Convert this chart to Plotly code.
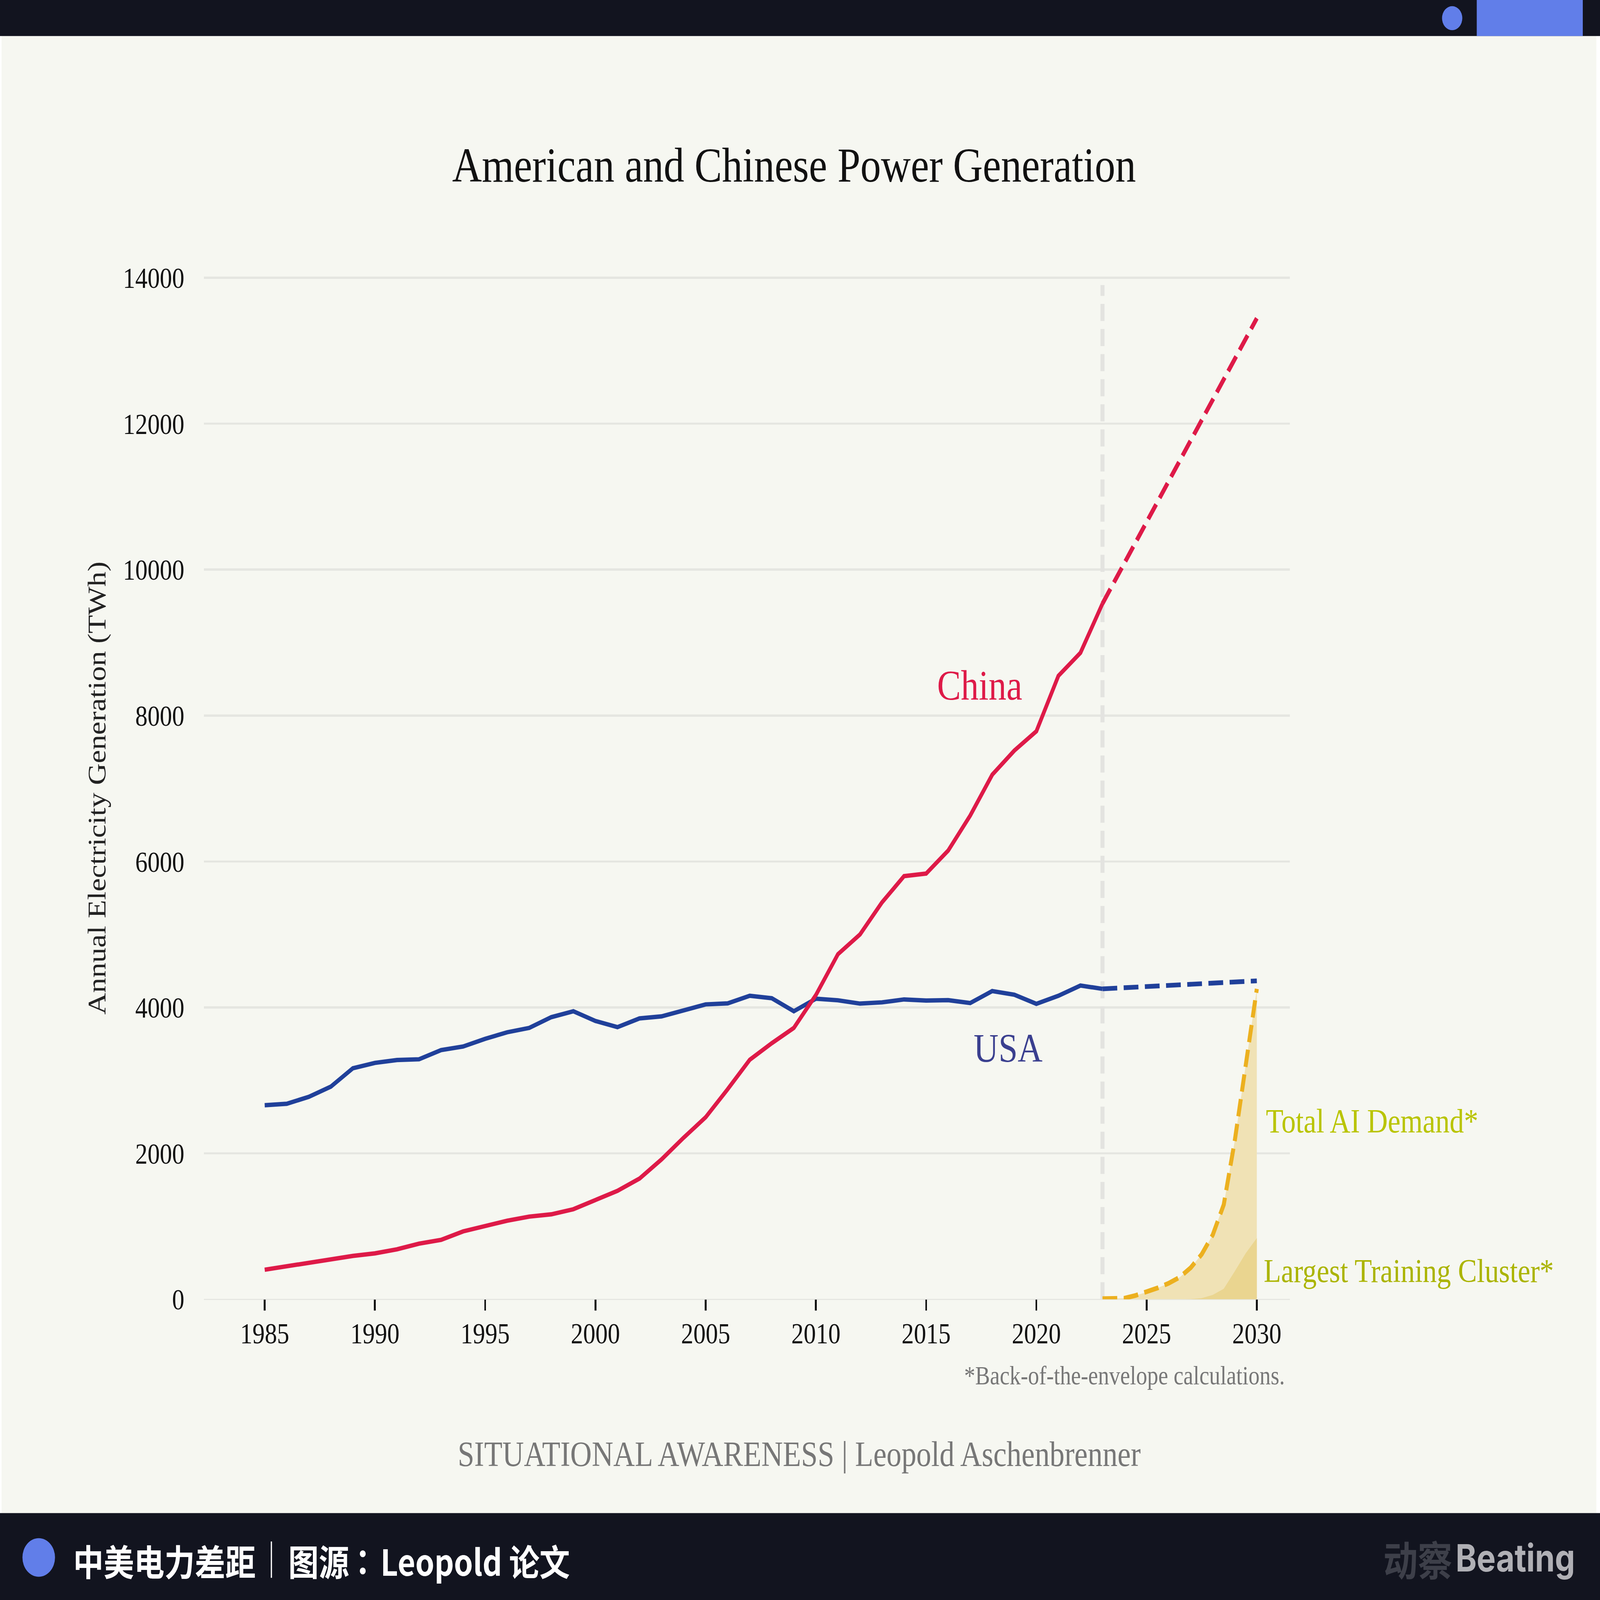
import plotly.graph_objects as go

W, H = 5206, 4401

# values (TWh)
years = list(range(1985, 2024))
usa = [2660, 2680, 2775, 2915, 3167, 3240, 3280, 3290, 3416, 3465,
       3570, 3660, 3720, 3867, 3948, 3815, 3730, 3850, 3878, 3960,
       4042, 4056, 4160, 4126, 3948, 4120, 4098, 4053, 4070, 4110,
       4095, 4100, 4060, 4225, 4175, 4050, 4160, 4300, 4255]
china = [406, 455, 507, 556, 595, 630, 686, 763, 815, 931,
         1008, 1078, 1134, 1165, 1235, 1365, 1487, 1655, 1918, 2215,
         2495, 2880, 3283, 3510, 3720, 4170, 4730, 5000, 5440, 5800,
         5835, 6150, 6630, 7190, 7520, 7785, 8545, 8860, 9535]

proj_years = [2023, 2030]
usa_proj = [4255, 4365]
china_proj = [9535, 13445]

ai_years = [2023, 2024, 2024.5, 2025, 2025.5, 2026, 2026.5, 2027, 2027.5, 2028, 2028.5, 2029, 2029.5, 2030]
ai_demand = [10, 15, 53, 98, 156, 220, 302, 433, 618, 883, 1298, 2175, 3218, 4255]
cluster = [0, 0, 0, 0, 0, 0, 0, 3, 17, 60, 145, 385, 634, 840]

marker_years = [2023, 2023]
marker_range = [0, 13900]

x_ticks = [1985, 1990, 1995, 2000, 2005, 2010, 2015, 2020, 2025, 2030]
y_ticks = [0, 2000, 4000, 6000, 8000, 10000, 12000, 14000]

SERIF = "Liberation Serif"
CJK = "Noto Sans CJK SC"
CREAM = "#f6f7f1"
DARK = "#12141f"
BLUE = "#617ee9"
RED = "#de1a48"
NAVY = "#20409a"
GOLD = "#ecb01f"
GRID = "#e5e6e1"
GREY = "#777777"
DASH = "48px,21px"

# the figure is laid out at 5206x4401 and fitted to whatever window the page gets
FIT_WINDOW = """
var gd = document.getElementById('{plot_id}');
document.documentElement.style.margin = '0';
document.body.style.margin = '0';
document.body.style.overflow = 'hidden';
gd.style.position = 'fixed';
gd.style.left = '0';
gd.style.top = '0';
gd.style.transformOrigin = '0 0';
gd.style.transform = 'scale(' + window.innerWidth / %d + ',' + window.innerHeight / %d + ')';
""" % (W, H)


def px_x(x):
    return x / W


def px_y(y):
    return 1 - y / H


def label(x, y, text, size, color, anchor="center", font=SERIF, angle=0):
    return dict(x=px_x(x), y=px_y(y), xref="paper", yref="paper", text=text, showarrow=False,
                xanchor=anchor, yanchor="middle", textangle=angle,
                font=dict(family=font, size=size, color=color))


def box(x0, y0, x1, y1, color, kind="rect"):
    return dict(type=kind, xref="paper", yref="paper", x0=px_x(x0), x1=px_x(x1),
                y0=px_y(y0), y1=px_y(y1), fillcolor=color, line_width=0, layer="below")


fig = go.Figure()

# AI demand areas first so the lines sit on top
fig.add_trace(go.Scatter(x=ai_years, y=ai_demand, mode="none", fill="tozeroy", fillcolor="#f0e2b5"))
fig.add_trace(go.Scatter(x=ai_years, y=cluster, mode="none", fill="tozeroy", fillcolor="#ead590"))

fig.add_trace(go.Scatter(x=marker_years, y=marker_range, mode="lines",
                         line=dict(color="#e3e3e0", width=13, dash="47px,22px")))

fig.add_trace(go.Scatter(x=years, y=usa, mode="lines", line=dict(color=NAVY, width=12)))
fig.add_trace(go.Scatter(x=years, y=china, mode="lines", line=dict(color=RED, width=12)))
fig.add_trace(go.Scatter(x=proj_years, y=usa_proj, mode="lines", line=dict(color=NAVY, width=13, dash=DASH)))
fig.add_trace(go.Scatter(x=proj_years, y=china_proj, mode="lines", line=dict(color=RED, width=13, dash=DASH)))
fig.add_trace(go.Scatter(x=ai_years, y=ai_demand, mode="lines", line=dict(color=GOLD, width=13, dash=DASH)))

shapes = [
    box(5, 99, 5194, 4162, CREAM),
    box(0, 0, W, 99, DARK),
    box(4805, 0, 5150, 99, BLUE),
    box(4692, 17, 4758, 83, BLUE, "circle"),
    box(0, 4162, W, H, DARK),
    box(73, 4231, 179, 4337, BLUE, "circle"),
    box(881, 4240, 885, 4340, "#ffffff"),
]

annotations = [
    label(2583, 455, "American and Chinese Power Generation", 134, "#111111"),
    label(315, 2168, "Annual Electricity Generation (TWh)", 83, "#222222", angle=-90),
    label(3187, 1885, "China", 116, RED),
    label(3280, 2882, "USA", 112, "#3a3f8f"),
    label(4117, 3083, "Total AI Demand*", 93, "#b9c400", anchor="left"),
    label(4110, 3495, "Largest Training Cluster*", 92, "#abb400", anchor="left"),
    label(4183, 3784, "*Back-of-the-envelope calculations.", 72, GREY, anchor="right"),
    label(2600, 4000, "SITUATIONAL AWARENESS | Leopold Aschenbrenner", 97, GREY),
    label(236, 4291, "<b>中美电力差距</b>", 99, "#ffffff", anchor="left", font=CJK),
    label(936, 4291, "<b>图源</b>", 99, "#ffffff", anchor="left", font=CJK),
    label(1180, 4291, "<b>：</b>", 99, "#ffffff", font="Noto Sans CJK TC"),
    label(1236, 4291, "<b>Leopold 论文</b>", 99, "#ffffff", anchor="left", font=CJK),
    label(4499, 4285, "<b>动察</b>", 112, "#3d3f49", anchor="left", font=CJK),
    label(4734, 4285, "<b>Beating</b>", 104, "#b0b0b5", anchor="left", font="Inter"),
]

fig.update_layout(
    width=W,
    height=H,
    autosize=False,
    margin=dict(l=0, r=0, t=0, b=0),
    paper_bgcolor="#ffffff",
    plot_bgcolor=CREAM,
    showlegend=False,
    shapes=shapes,
    annotations=annotations,
)
fig.update_xaxes(
    domain=[664 / W, 4197 / W],
    range=[1982.25, 2031.5],
    automargin=False,
    tickvals=x_ticks,
    showgrid=False,
    zeroline=False,
    ticks="outside",
    ticklen=30,
    tickwidth=6,
    tickcolor="#111111",
    ticklabelstandoff=-6,
    tickfont=dict(family=SERIF, size=80, color="#111111"),
)
fig.update_yaxes(
    domain=[1 - 3574 / H, 1 - 760 / H],
    range=[0, 14020],
    automargin=False,
    tickvals=y_ticks,
    tickformat="d",
    gridcolor=GRID,
    gridwidth=6,
    zeroline=True,
    zerolinecolor=GRID,
    zerolinewidth=3,
    ticklabelstandoff=63,
    tickfont=dict(family=SERIF, size=80, color="#111111"),
)

fig.write_html("out.html", post_script=FIT_WINDOW, config={"displayModeBar": False})
